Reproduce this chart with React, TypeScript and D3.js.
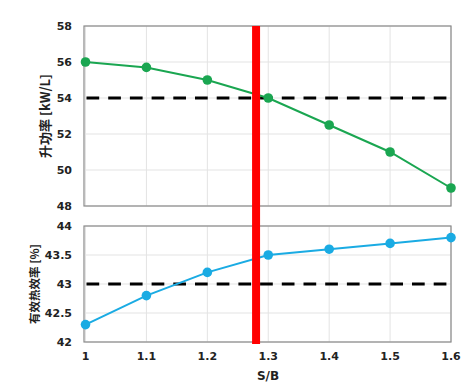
import React from "react";
import * as d3 from "d3";

const SB = [1.0, 1.1, 1.2, 1.3, 1.4, 1.5, 1.6];
const POWER = [56, 55.7, 55, 54, 52.5, 51, 49];
const EFF = [42.3, 42.8, 43.2, 43.5, 43.6, 43.7, 43.8];
const POWER_TICKS = [48, 50, 52, 54, 56, 58];
const EFF_TICKS = [42, 42.5, 43, 43.5, 44];
const X_TICKS = [1, 1.1, 1.2, 1.3, 1.4, 1.5, 1.6];
const POWER_TARGET = 54;
const EFF_TARGET = 43;
const SB_MARK = 1.28;

const W = 472;
const H = 392;
const left = 85.5;
const right = 451;
const FONT = "'DejaVu Sans', sans-serif";
const CJK = "'Noto Sans CJK SC', sans-serif";

export default function App() {
  const x = d3.scaleLinear().domain([1, 1.6]).range([left, right]);
  const yTop = d3.scaleLinear().domain([48, 58]).range([206, 26]);
  const yBot = d3.scaleLinear().domain([42, 44]).range([342, 226]);

  const panel = (
    y: d3.ScaleLinear<number, number>,
    ticks: number[],
    values: number[],
    target: number,
    color: string,
    label: string,
    labelX: number,
    labelSize: number,
    showX: boolean
  ) => {
    const [y0, y1] = y.range();
    const line = d3.line<number>().x((_, i) => x(SB[i])).y(v => y(v));
    return (
      <g>
        {X_TICKS.map(t => (
          <line key={"vx" + t} x1={x(t)} x2={x(t)} y1={y1} y2={y0} stroke="#e3e3e3" strokeWidth={1} />
        ))}
        {ticks.map(t => (
          <g key={"hy" + t}>
            <line x1={left} x2={right} y1={y(t)} y2={y(t)} stroke="#e3e3e3" strokeWidth={1} />
            <text x={72} y={y(t)} dy="0.35em" textAnchor="end" fontFamily={FONT} fontWeight="bold" fontSize={11} fill="#222">
              {t}
            </text>
          </g>
        ))}
        <rect x={left - 1.5} y={y1} width={right - left + 1.5} height={y0 - y1} fill="none" stroke="#8a8a8a" strokeWidth={1.2} />
        <line x1={left + 1} x2={right - 4} y1={y(target)} y2={y(target)} stroke="#000" strokeWidth={3} strokeDasharray="12.7 9" />
        <path d={line(values) || ""} fill="none" stroke={color} strokeWidth={2} />
        {values.map((v, i) => (
          <circle key={i} cx={x(SB[i])} cy={y(v)} r={4.8} fill={color} />
        ))}
        <text
          transform={`translate(${labelX},${(y0 + y1) / 2}) rotate(-90)`}
          textAnchor="middle"
          dy="0.35em"
          fontFamily={CJK}
          fontWeight="bold"
          fontSize={labelSize}
          fill="#222"
        >
          {label}
        </text>
        {showX &&
          X_TICKS.map(t => (
            <text key={"xt" + t} x={x(t)} y={356} dy="0.35em" textAnchor="middle" fontFamily={FONT} fontWeight="bold" fontSize={11} fill="#222">
              {t}
            </text>
          ))}
      </g>
    );
  };

  return (
    <svg width={W} height={H} style={{ position: "absolute", left: 0, top: 0, background: "#fff" }}>
      {panel(yTop, POWER_TICKS, POWER, POWER_TARGET, "#1aa651", "升功率 [kW/L]", 45, 13, false)}
      {panel(yBot, EFF_TICKS, EFF, EFF_TARGET, "#1aabe3", "有效热效率 [%]", 35, 11.5, true)}
      <line x1={x(SB_MARK)} x2={x(SB_MARK)} y1={26} y2={344} stroke="#ff0000" strokeWidth={8} />
      <text x={268} y={376} dy="0.35em" textAnchor="middle" fontFamily={FONT} fontWeight="bold" fontSize={12} fill="#222">
        S/B
      </text>
    </svg>
  );
}
